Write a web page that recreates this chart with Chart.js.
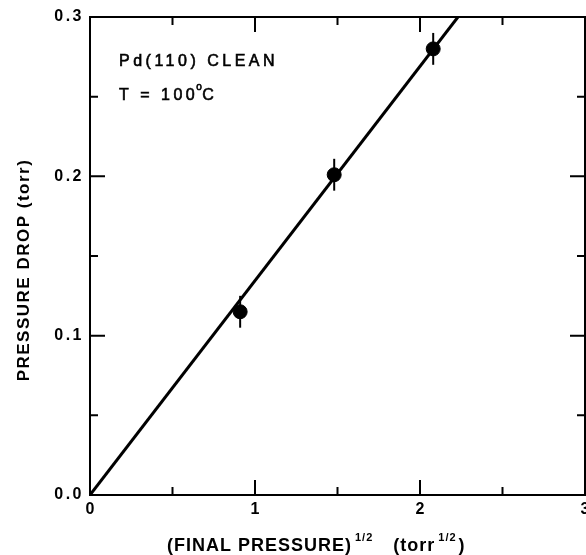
<!DOCTYPE html>
<html>
<head>
<meta charset="utf-8">
<script src="https://cdn.jsdelivr.net/npm/chart.js@4/dist/chart.umd.min.js"></script>
<style>
  html, body { margin: 0; padding: 0; background: #fff; }
  canvas { display: block; }
</style>
</head>
<body>
<canvas id="chart" width="586" height="555"></canvas>
<script>
// measured points: sqrt(final pressure) vs pressure drop
const sqrtPressure = [0.91, 1.48, 2.08];
const pressureDrop = [0.115, 0.201, 0.280];
const dropError = [0.010, 0.010, 0.010];

// straight-line fit through the origin
const fitX = [0, 2.23];
const fitY = [0, 0.30];

// axis ticks
const xMajor = [0, 1, 2, 3];
const xMinor = [0.5, 1.5, 2.5];
const yMajor = [0, 0.1, 0.2, 0.3];
const yMinor = [0.05, 0.15, 0.25];
const xLabels = ['0', '1', '2', '3'];

const FONT = '"Liberation Sans", Arial, Helvetica, sans-serif';

// frame, inward ticks, x numbers and error bars
const framePlugin = {
    id: 'frame',
    beforeDraw(chart) {
        // wide spacing for the tick numbers
        chart.ctx.letterSpacing = '2.5px';
    },
    afterDatasetsDraw(chart) {
        const { ctx, chartArea: a, scales: { x, y } } = chart;
        ctx.save();
        ctx.letterSpacing = '0px';
        ctx.strokeStyle = '#000';
        ctx.lineWidth = 2;
        ctx.strokeRect(a.left, a.top, a.right - a.left, a.bottom - a.top);

        const tick = (v, len, vertical) => {
            ctx.beginPath();
            if (vertical) {
                const px = x.getPixelForValue(v);
                ctx.moveTo(px, a.bottom); ctx.lineTo(px, a.bottom - len);
                ctx.moveTo(px, a.top); ctx.lineTo(px, a.top + len);
            } else {
                const py = y.getPixelForValue(v);
                ctx.moveTo(a.left, py); ctx.lineTo(a.left + len, py);
                ctx.moveTo(a.right, py); ctx.lineTo(a.right - len, py);
            }
            ctx.stroke();
        };
        xMajor.forEach(v => tick(v, 15, true));
        xMinor.forEach(v => tick(v, 8, true));
        yMajor.forEach(v => tick(v, 15, false));
        yMinor.forEach(v => tick(v, 8, false));

        // numbers under the x axis
        ctx.fillStyle = '#000';
        ctx.font = 'bold 16px ' + FONT;
        ctx.textAlign = 'center';
        ctx.textBaseline = 'top';
        xMajor.forEach((v, i) => ctx.fillText(xLabels[i], x.getPixelForValue(v), a.bottom + 7));

        // vertical error bars
        ctx.lineWidth = 2;
        sqrtPressure.forEach((v, i) => {
            const px = x.getPixelForValue(v);
            ctx.beginPath();
            ctx.moveTo(px, y.getPixelForValue(pressureDrop[i] - dropError[i]));
            ctx.lineTo(px, y.getPixelForValue(pressureDrop[i] + dropError[i]));
            ctx.stroke();
        });
        ctx.restore();
    },
    afterDraw(chart) {
        const { ctx } = chart;
        ctx.save();
        ctx.fillStyle = '#000';
        ctx.strokeStyle = '#000';
        ctx.lineWidth = 0.6;
        ctx.textBaseline = 'alphabetic';

        // annotation, slightly heavier than regular weight
        const heavy = (t, tx, ty) => { ctx.fillText(t, tx, ty); ctx.strokeText(t, tx, ty); };
        ctx.font = '16px ' + FONT;
        ctx.letterSpacing = '3.5px';
        heavy('Pd(110) CLEAN', 119, 66);
        heavy('T = 100', 119, 100);
        let w = ctx.measureText('T = 100').width;
        ctx.font = '10px ' + FONT;
        ctx.letterSpacing = '0px';
        heavy('o', 119 + w - 2, 90);
        ctx.font = '16px ' + FONT;
        heavy('C', 119 + w + 4, 100);

        // y title
        ctx.save();
        ctx.translate(24, 270);
        ctx.rotate(-Math.PI / 2);
        ctx.font = 'bold 17px ' + FONT;
        ctx.letterSpacing = '1.5px';
        ctx.textAlign = 'center';
        ctx.textBaseline = 'middle';
        ctx.fillText('PRESSURE DROP (torr)', 0, 0);
        ctx.restore();

        // x title with superscripts
        const parts = [
            ['(FINAL PRESSURE)', false],
            ['1/2', true],
            ['   (torr', false],
            ['1/2', true],
            [')', false]
        ];
        let cx = 167;
        ctx.letterSpacing = '1px';
        parts.forEach(([t, sup]) => {
            ctx.font = (sup ? 'bold 11px ' : 'bold 18px ') + FONT;
            if (sup) cx += 3;
            ctx.fillText(t, cx, sup ? 541 : 551);
            cx += ctx.measureText(t).width + (sup ? 2 : 0);
        });
        ctx.restore();
    }
};

const tickFont = { family: FONT, size: 16, weight: 'bold' };

new Chart(document.getElementById('chart'), {
    type: 'scatter',
    data: {
        datasets: [
            {
                data: sqrtPressure.map((v, i) => ({ x: v, y: pressureDrop[i] })),
                backgroundColor: '#000',
                borderColor: '#000',
                pointRadius: 7,
                pointHoverRadius: 7
            },
            {
                type: 'line',
                data: fitX.map((v, i) => ({ x: v, y: fitY[i] })),
                borderColor: '#000',
                borderWidth: 3,
                pointRadius: 0,
                fill: false
            }
        ]
    },
    options: {
        responsive: false,
        animation: false,
        events: [],
        layout: { autoPadding: false, padding: { top: 17, right: 1, left: 0, bottom: 0 } },
        plugins: { legend: { display: false }, tooltip: { enabled: false } },
        scales: {
            x: {
                type: 'linear',
                min: 0,
                max: 3,
                grid: { display: false, drawTicks: false },
                border: { display: false },
                ticks: { display: false, stepSize: 1 },
                afterFit(s) { s.height = 60; }
            },
            y: {
                min: 0,
                max: 0.3,
                grid: { display: false, drawTicks: false },
                border: { display: false },
                ticks: {
                    stepSize: 0.1,
                    padding: 6,
                    color: '#000',
                    font: tickFont,
                    callback: v => v.toFixed(1)
                },
                afterFit(s) { s.width = 90; s.paddingTop = 0; s.paddingBottom = 0; }
            }
        }
    },
    plugins: [framePlugin]
});
</script>
</body>
</html>
